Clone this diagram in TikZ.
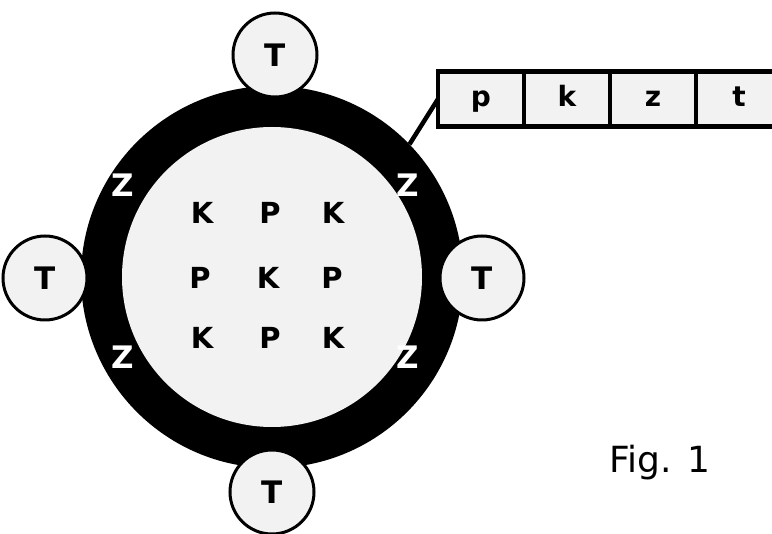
\documentclass[tikz,border=0pt]{standalone}
\usepackage{fontspec}
\setmainfont{DejaVu Sans}
\usetikzlibrary{positioning}

\begin{document}
\begin{tikzpicture}[x=1pt,y=-1pt,
    lbl/.style={font=\fontsize{29}{32}\selectfont\bfseries},
    zlbl/.style={text=white, font=\fontsize{31}{34}\selectfont\bfseries},
    tcirc/.style={circle, draw=black, line width=3pt, fill=gray!10,
                  minimum size=84pt, inner sep=0pt, font=\fontsize{31}{34}\selectfont\bfseries},
    cell/.style={rectangle, draw=black, line width=4.5pt, fill=gray!10,
                 minimum width=86pt, minimum height=55pt, inner sep=0pt, outer sep=0pt,
                 text height=20pt, text depth=4pt,
                 font=\fontsize{28}{30}\selectfont\bfseries}
  ]
  \useasboundingbox (0,0) rectangle (772,534);

  % ring and core
  \node[circle, fill=black, minimum size=382pt, inner sep=0pt] (ring) at (272,277) {};
  \node[circle, fill=gray!10, minimum size=300pt, inner sep=0pt] (core) at (272,277) {};

  % Z marks on the ring
  \node[zlbl] (z1) at (123,185) {Z};
  \node[zlbl] (z2) at (408,185) {Z};
  \node[zlbl] (z3) at (123,357) {Z};
  \node[zlbl] (z4) at (408,357) {Z};

  % T circles
  \node[tcirc] (ttop) at (275,55) {T};
  \node[tcirc] (tleft) at (45,278) {T};
  \node[tcirc] (tright) at (482,278) {T};
  \node[tcirc] (tbot) at (272,492) {T};

  % inner grid
  \node[lbl] (k1) at (202,213) {K};
  \node[lbl] (p1) at (270,213) {P};
  \node[lbl] (k2) at (333,213) {K};
  \node[lbl] (p2) at (200,278) {P};
  \node[lbl] (k3) at (268,278) {K};
  \node[lbl] (p3) at (332,278) {P};
  \node[lbl] (k4) at (202,338) {K};
  \node[lbl] (p4) at (270,338) {P};
  \node[lbl] (k5) at (333,338) {K};

  % record
  \node[cell] (cp) at (481,99) {p};
  \node[cell, right=0pt of cp] (ck) {k};
  \node[cell, right=0pt of ck] (cz) {z};
  \node[cell, right=0pt of cz] (ct) {t};

  \draw[line width=4.5pt] (ring.44) -- (cp.west);

  \node[font=\fontsize{36}{40}\selectfont] (fig) at (660,463) {Fig. 1};
\end{tikzpicture}
\end{document}
